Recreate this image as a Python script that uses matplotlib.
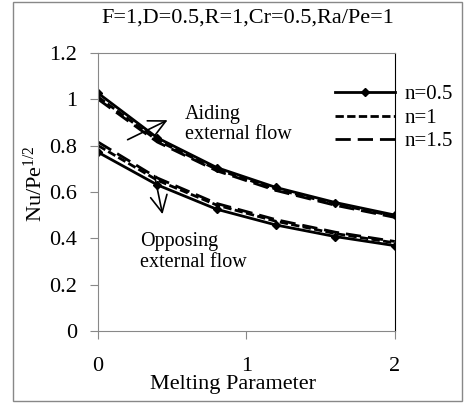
import matplotlib
matplotlib.use('Agg')
from matplotlib import pyplot as plt
from matplotlib.patches import Rectangle

# melting parameter values
m = [0, 0.4, 0.8, 1.2, 1.6, 2.0]

# aiding external flow
aid_n05 = [1.026, 0.833, 0.705, 0.619, 0.554, 0.500]
aid_n1 = [1.010, 0.822, 0.697, 0.612, 0.547, 0.495]
aid_n15 = [1.000, 0.815, 0.691, 0.606, 0.542, 0.490]

# opposing external flow
opp_n05 = [0.771, 0.630, 0.525, 0.457, 0.407, 0.368]
opp_n1 = [0.800, 0.650, 0.543, 0.473, 0.420, 0.380]
opp_n15 = [0.815, 0.660, 0.550, 0.480, 0.426, 0.386]

labels = ['n=0.5', 'n=1', 'n=1.5']

plt.rcParams['font.family'] = ['Liberation Serif', 'DejaVu Serif']
plt.rcParams['mathtext.fontset'] = 'custom'
plt.rcParams['mathtext.rm'] = 'Liberation Serif'
plt.rcParams['mathtext.it'] = 'Liberation Serif:italic'

fig = plt.figure(figsize=(4.65, 4.04), dpi=100)
ax = fig.add_axes([0.211, 0.181, 0.638, 0.688])

# outer chart frame
fig.patches.append(Rectangle((0.028, 0.007), 0.966, 0.988, transform=fig.transFigure,
                             fill=False, edgecolor='#888888', linewidth=1))

short = (3, 1.2)
long_ = (5.5, 2.5)
ax.plot(m, aid_n05, color='black', lw=2, marker='D', ms=4, label=labels[0])
ax.plot(m, aid_n1, color='black', lw=2, dashes=short, label=labels[1])
ax.plot(m, aid_n15, color='black', lw=2, dashes=long_, label=labels[2])
ax.plot(m, opp_n05, color='black', lw=2, marker='D', ms=4)
ax.plot(m, opp_n1, color='black', lw=2, dashes=short)
ax.plot(m, opp_n15, color='black', lw=2, dashes=long_)

ax.set_xlim(0, 2)
ax.set_ylim(0, 1.2)
ax.set_xticks([0, 1, 2])
ax.set_yticks([0, 0.2, 0.4, 0.6, 0.8, 1.0, 1.2])
ax.set_yticklabels(['0', '0.2', '0.4', '0.6', '0.8', '1', '1.2'])
ax.tick_params(axis='both', direction='out', color='#888888', labelsize=16, length=6)
ax.tick_params(axis='x', pad=13)
ax.tick_params(axis='y', pad=9)
for s in ['left', 'bottom', 'top']:
    ax.spines[s].set_color('#888888')
ax.spines['right'].set_color('black')

ax.set_xlabel('Melting Parameter', fontsize=16)
ax.xaxis.set_label_coords(0.455, -0.158)
ax.set_ylabel('Nu/Pe$^{1/2}$', fontsize=16)
ax.yaxis.set_label_coords(-0.172, 0.53)
fig.text(248 / 465, 1 - 18 / 404, 'F=1,D=0.5,R=1,Cr=0.5,Ra/Pe=1', fontsize=16,
         ha='center', va='center')

# direction arrows
ax.annotate('', xy=(0.485, 0.915), xytext=(0.182, 0.82),
            arrowprops=dict(arrowstyle='->', color='black', lw=1.2, mutation_scale=30))
ax.annotate('', xy=(0.438, 0.492), xytext=(0.377, 0.682),
            arrowprops=dict(arrowstyle='->', color='black', lw=1.2, mutation_scale=30))
ax.text(0.586, 0.977, 'Aiding\nexternal flow', fontsize=14.5, ha='left', va='top', linespacing=1.1)
ax.text(0.283, 0.426, 'Opposing\nexternal flow', fontsize=14.5, ha='left', va='top', linespacing=1.1)

leg = ax.legend(loc='upper left', bbox_to_anchor=(0.798, 0.885), frameon=False, fontsize=15,
                handlelength=2.9, handletextpad=0.45, labelspacing=0.18, borderaxespad=0,
                borderpad=0)
leg.set_clip_on(False)

fig.savefig('out.png', dpi=100)
plt.close(fig)
